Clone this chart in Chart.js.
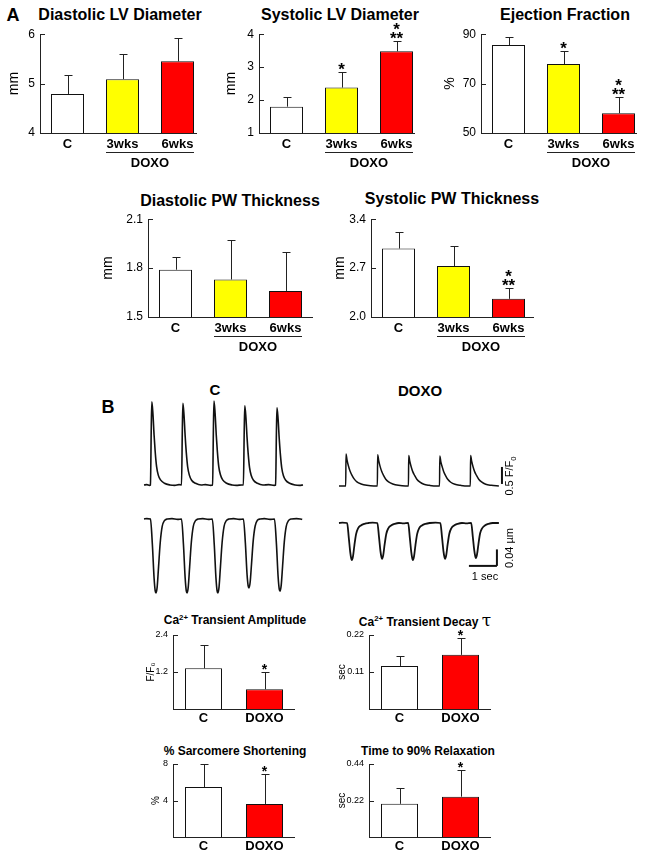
<!DOCTYPE html>
<html>
<head>
<meta charset="utf-8">
<script src="https://cdn.jsdelivr.net/npm/chart.js@4.4.1/dist/chart.umd.min.js"></script>
<style>
  body { margin: 0; background: #fff; }
  #fig { position: relative; width: 651px; height: 858px; overflow: hidden; font-family: "Liberation Sans", Arial, sans-serif; color: #000; }
  #fig canvas { position: absolute; }
  .lbl { position: absolute; transform: translate(-50%, -50%); white-space: nowrap; line-height: 1; }
  .lbl sup { font-size: 0.65em; vertical-align: 0.55em; line-height: 0; }
</style>
</head>
<body>
<div id="fig"></div>
<script>
// ---- panel A: echo data (mean, +SEM) ----
const groupsA = ["C", "3wks", "6wks"];

const lvddMean = [4.79, 5.09, 5.45];
const lvddErr = [0.38, 0.50, 0.48];
const lvddTicks = ["4", "5", "6"];

const lvdsMean = [1.80, 2.38, 3.48];
const lvdsErr = [0.28, 0.48, 0.32];
const lvdsSig = [[], ["*"], ["*", "**"]];
const lvdsTicks = ["1", "2", "3", "4"];

const efMean = [85.6, 77.9, 58.0];
const efErr = [3.3, 5.2, 6.7];
const efSig = [[], ["*"], ["*", "**"]];
const efTicks = ["50", "70", "90"];

const pwdMean = [1.79, 1.73, 1.66];
const pwdErr = [0.08, 0.24, 0.24];
const pwdTicks = ["1.5", "1.8", "2.1"];

const pwsMean = [2.98, 2.73, 2.26];
const pwsErr = [0.23, 0.29, 0.16];
const pwsSig = [[], [], ["*", "**"]];
const pwsTicks = ["2.0", "2.7", "3.4"];

// ---- panel B: myocyte data ----
const groupsB = ["C", "DOXO"];
const sigB = [[], ["*"]];

const caAmpMean = [1.32, 0.64];
const caAmpErr = [0.77, 0.56];
const caAmpTicks = ["1.2", "2.4"];

const tauMean = [0.128, 0.161];
const tauErr = [0.030, 0.049];
const tauTicks = ["0.11", "0.22"];

const shortMean = [5.48, 3.62];
const shortErr = [2.52, 3.28];
const shortTicks = ["4", "8"];

const relaxMean = [0.200, 0.243];
const relaxErr = [0.093, 0.161];
const relaxTicks = ["0.22", "0.44"];

// traces: [time (s), F/F0] and [time (s), sarcomere length (um)]
const ctrlCa = [[0,1.00],[0.10,1.01],[0.20,0.99],
  [0.23,1.00],[0.26,2.72],[0.28,3.45],[0.32,3.08],[0.36,2.47],[0.40,1.98],[0.45,1.54],[0.51,1.29],[0.59,1.15],[0.73,1.05],[0.93,1.00],[1.10,0.99],[1.25,1.01],
  [1.34,1.00],[1.37,2.68],[1.39,3.40],[1.43,3.04],[1.47,2.44],[1.51,1.96],[1.56,1.53],[1.62,1.29],[1.70,1.14],[1.84,1.05],[2.04,1.00],[2.20,1.01],[2.38,0.99],
  [2.45,1.00],[2.48,2.73],[2.50,3.47],[2.54,3.10],[2.58,2.48],[2.62,1.99],[2.67,1.54],[2.73,1.30],[2.81,1.15],[2.95,1.05],[3.15,1.00],[3.30,0.99],[3.50,1.00],
  [3.55,1.00],[3.58,2.63],[3.60,3.33],[3.64,2.98],[3.68,2.40],[3.72,1.93],[3.77,1.51],[3.83,1.28],[3.91,1.14],[4.05,1.05],[4.25,1.00],[4.45,1.01],[4.65,0.99],
  [4.70,1.00],[4.73,2.59],[4.75,3.27],[4.79,2.93],[4.83,2.36],[4.87,1.91],[4.92,1.50],[4.98,1.27],[5.06,1.14],[5.20,1.05],[5.40,1.00],[5.55,0.99],[5.68,1.00]];

const doxoCa = [[0,1.00],[0.12,1.00],[0.24,1.00],
  [0.25,1.94],[0.29,1.75],[0.34,1.58],[0.39,1.45],[0.46,1.32],[0.54,1.21],[0.64,1.12],[0.79,1.06],[0.99,1.02],[1.24,1.00],[1.37,1.00],
  [1.38,1.92],[1.42,1.74],[1.47,1.57],[1.52,1.44],[1.59,1.31],[1.67,1.20],[1.77,1.12],[1.92,1.06],[2.12,1.02],[2.37,1.00],[2.48,1.00],
  [2.49,1.90],[2.53,1.72],[2.58,1.56],[2.63,1.43],[2.70,1.31],[2.78,1.20],[2.88,1.12],[3.03,1.05],[3.23,1.02],[3.48,1.00],[3.59,1.00],
  [3.60,1.88],[3.64,1.70],[3.69,1.55],[3.74,1.42],[3.81,1.30],[3.89,1.19],[3.99,1.11],[4.14,1.05],[4.34,1.02],[4.59,1.00],[4.69,1.00],
  [4.70,1.90],[4.74,1.72],[4.79,1.56],[4.84,1.43],[4.91,1.31],[4.99,1.20],[5.09,1.12],[5.24,1.05],[5.44,1.02],[5.71,1.00]];

const ctrlSL = [[0,1.800],[0.10,1.801],
  [0.23,1.800],[0.30,1.737],[0.36,1.657],[0.40,1.626],[0.43,1.621],[0.47,1.635],[0.52,1.684],[0.58,1.743],[0.65,1.782],[0.73,1.796],[0.83,1.800],[1.00,1.801],[1.20,1.799],
  [1.34,1.800],[1.41,1.737],[1.47,1.657],[1.51,1.626],[1.54,1.621],[1.58,1.635],[1.63,1.684],[1.69,1.743],[1.76,1.782],[1.84,1.796],[1.94,1.800],[2.10,1.801],[2.30,1.799],
  [2.44,1.800],[2.51,1.737],[2.57,1.657],[2.61,1.626],[2.64,1.621],[2.68,1.635],[2.73,1.684],[2.79,1.743],[2.86,1.782],[2.94,1.796],[3.04,1.800],[3.20,1.801],[3.40,1.799],
  [3.55,1.800],[3.62,1.742],[3.68,1.666],[3.72,1.638],[3.75,1.633],[3.79,1.646],[3.84,1.691],[3.90,1.747],[3.97,1.783],[4.05,1.797],[4.15,1.800],[4.30,1.801],[4.50,1.799],
  [4.66,1.800],[4.73,1.739],[4.79,1.660],[4.83,1.630],[4.86,1.625],[4.90,1.639],[4.95,1.686],[5.01,1.744],[5.08,1.782],[5.16,1.796],[5.26,1.800],[5.45,1.801],[5.65,1.799]];

const doxoSL = [[0,1.800],[0.12,1.801],
  [0.29,1.800],[0.35,1.764],[0.40,1.730],[0.44,1.713],[0.46,1.710],[0.50,1.719],[0.55,1.746],[0.61,1.773],[0.68,1.787],[0.78,1.794],[0.91,1.798],[1.06,1.800],[1.20,1.801],
  [1.37,1.800],[1.43,1.765],[1.48,1.732],[1.52,1.716],[1.54,1.713],[1.58,1.722],[1.63,1.748],[1.69,1.774],[1.76,1.787],[1.86,1.794],[1.99,1.798],[2.14,1.800],[2.30,1.799],
  [2.47,1.800],[2.53,1.764],[2.58,1.730],[2.62,1.713],[2.64,1.710],[2.68,1.719],[2.73,1.746],[2.79,1.773],[2.86,1.787],[2.96,1.794],[3.09,1.798],[3.24,1.800],[3.45,1.801],
  [3.62,1.800],[3.68,1.765],[3.73,1.732],[3.77,1.716],[3.79,1.713],[3.83,1.722],[3.88,1.748],[3.94,1.774],[4.01,1.787],[4.11,1.794],[4.24,1.798],[4.39,1.800],[4.55,1.799],
  [4.72,1.800],[4.78,1.766],[4.83,1.734],[4.87,1.718],[4.89,1.715],[4.93,1.724],[4.98,1.749],[5.04,1.775],[5.11,1.787],[5.21,1.794],[5.34,1.798],[5.49,1.800],[5.71,1.800]];

const FONT = "'Liberation Sans', Arial, sans-serif";
Chart.defaults.font.family = FONT;
Chart.defaults.color = "#000";

const fig = document.getElementById("fig");
const WHITE = "#ffffff", YELLOW = "#ffff00", RED = "#ff0000";

function makeCanvas(left, top, w, h) {
  const c = document.createElement("canvas");
  c.width = w; c.height = h;
  Object.assign(c.style, { left: left + "px", top: top + "px", width: w + "px", height: h + "px" });
  fig.appendChild(c);
  return c;
}

function label(html, x, y, css) {
  const d = document.createElement("div");
  d.className = "lbl";
  d.innerHTML = html;
  d.style.left = x + "px";
  d.style.top = y + "px";
  Object.assign(d.style, css || {});
  fig.appendChild(d);
}

function seg(ctx, x1, y1, x2, y2) {
  ctx.beginPath(); ctx.moveTo(x1, y1); ctx.lineTo(x2, y2); ctx.stroke();
}

// baseline, inward ticks, error bars, asterisks, DOXO bracket
const decor = {
  id: "decor",
  afterDatasetsDraw(chart, args, o) {
    const { ctx, chartArea: a } = chart;
    const y = chart.scales.y;
    const bars = chart.getDatasetMeta(0).data;
    ctx.save();
    ctx.strokeStyle = "#222";
    ctx.fillStyle = "#000";
    ctx.lineWidth = 1;
    const yb = Math.round(a.bottom) + 0.5;
    seg(ctx, a.left, yb, a.right - o.cut, yb);
    y.ticks.forEach(t => {
      const p = Math.round(y.getPixelForValue(t.value)) + 0.5;
      seg(ctx, a.left, p, a.left + 5, p);
    });
    ctx.font = "bold " + o.starSize + "px " + FONT;
    ctx.textAlign = "center";
    ctx.textBaseline = "alphabetic";
    bars.forEach((b, i) => {
      const x = Math.round(b.x) + 0.5;
      const top = Math.round(y.getPixelForValue(o.mean[i] + o.err[i])) + 0.5;
      seg(ctx, x, b.y, x, top);
      seg(ctx, x - 4, top, x + 4, top);
      const lines = (o.sig && o.sig[i]) || [];
      lines.slice().reverse().forEach((s, k) => ctx.fillText(s, b.x, top + o.starDrop - k * o.starGap));
    });
    if (o.group) {
      const f = bars[o.group.from], l = bars[o.group.to];
      const x1 = f.x - f.width / 2, x2 = l.x + l.width / 2;
      const ly = Math.round(a.bottom + 19) + 0.5;
      seg(ctx, x1, ly, x2, ly);
      ctx.font = "bold 13px " + FONT;
      ctx.textBaseline = "middle";
      ctx.fillText(o.group.label, (x1 + x2) / 2, a.bottom + 30);
    }
    ctx.restore();
  }
};

function barChart(s) {
  const big = !s.small;
  const YW = 50, PT = 12, PR = 6, XH = big ? 46 : 24;
  const left = s.left - YW, top = s.top - PT;
  const w = s.right + PR - left, h = s.bottom + XH - top;
  const cv = makeCanvas(left, top, w, h);
  const tickVals = s.ticks.map(Number);
  const tf = big ? 12 : 9, yf = big ? 14 : 10;
  new Chart(cv, {
    type: "bar",
    data: {
      labels: s.labels,
      datasets: [{
        data: s.mean,
        backgroundColor: s.colors,
        borderColor: "#111",
        borderWidth: 1,
        barPercentage: s.barPct,
        categoryPercentage: 1
      }]
    },
    options: {
      responsive: false,
      animation: false,
      events: [],
      devicePixelRatio: 1,
      layout: { padding: { top: PT, right: PR, left: 0, bottom: 0 } },
      plugins: {
        legend: { display: false },
        tooltip: { enabled: false },
        decor: {
          mean: s.mean, err: s.err, sig: s.sig, cut: s.cut || 0, group: s.group,
          starSize: big ? 17 : 14, starGap: big ? 8.5 : 8, starDrop: big ? 2 : 1
        }
      },
      scales: {
        x: {
          grid: { display: false, drawTicks: false },
          border: { display: false },
          ticks: { padding: big ? 4 : 2, color: "#000", font: { size: 13, weight: "bold" } },
          afterFit: sc => { sc.height = XH; }
        },
        y: {
          min: s.min, max: s.max,
          grid: { display: false, drawTicks: false },
          border: { display: true, color: "#222", width: 1 },
          afterBuildTicks: sc => { sc.ticks = tickVals.map(v => ({ value: v })); },
          ticks: { padding: 5, color: "#000", font: { size: tf }, callback: (v, i) => s.ticks[i] },
          title: {
            display: true, text: s.yTitle, color: "#000",
            font: { size: yf },
            padding: { top: YW - s.yGap - yf * 0.6, bottom: 0 }
          },
          afterFit: sc => { sc.width = YW; }
        }
      }
    },
    plugins: [decor]
  });
}

// scale bars for the traces
const scaleBars = {
  id: "scaleBars",
  afterDatasetsDraw(chart, args, o) {
    if (!o.bars) return;
    const { ctx, scales: { x, y } } = chart;
    ctx.save();
    ctx.strokeStyle = "#111";
    ctx.lineWidth = 2;
    o.bars.forEach(b => seg(ctx, x.getPixelForValue(b[0]), y.getPixelForValue(b[1]), x.getPixelForValue(b[2]), y.getPixelForValue(b[3])));
    ctx.restore();
  }
};

function traceChart(box, an, pts, bars, lw) {
  const cv = makeCanvas(box.left, box.top, box.width, box.height);
  new Chart(cv, {
    type: "line",
    data: {
      datasets: [{
        data: pts.map(p => ({ x: p[0], y: p[1] })),
        borderColor: "#111",
        borderWidth: lw,
        pointRadius: 0,
        cubicInterpolationMode: "monotone"
      }]
    },
    options: {
      responsive: false,
      animation: false,
      events: [],
      devicePixelRatio: 1,
      layout: { padding: 0 },
      plugins: { legend: { display: false }, tooltip: { enabled: false }, scaleBars: { bars: bars } },
      scales: {
        x: { type: "linear", display: false,
             min: (box.left - an.x0) / an.px, max: (box.left + box.width - an.x0) / an.px },
        y: { type: "linear", display: false,
             min: an.v0 - (box.top + box.height - an.y0) / an.py,
             max: an.v0 + (an.y0 - box.top) / an.py }
      }
    },
    plugins: [scaleBars]
  });
}

// ---------- panel A ----------
label("A", 13, 15, { fontSize: "18px", fontWeight: "bold" });
label("Diastolic LV Diameter", 120, 15, { fontSize: "16px", fontWeight: "bold" });
label("Systolic LV Diameter", 340, 15, { fontSize: "16px", fontWeight: "bold" });
label("Ejection Fraction", 565, 15, { fontSize: "16px", fontWeight: "bold" });
label("Diastolic PW Thickness", 230, 201, { fontSize: "16px", fontWeight: "bold" });
label("Systolic PW Thickness", 452, 199, { fontSize: "16px", fontWeight: "bold" });

const doxoGroup = { from: 1, to: 2, label: "DOXO" };
const colorsA = [WHITE, YELLOW, RED];

barChart({ left: 40, top: 34, bottom: 133, right: 205, labels: groupsA, mean: lvddMean, err: lvddErr,
  ticks: lvddTicks, min: 4, max: 6, yTitle: "mm", yGap: 26, cut: 8, barPct: 0.6, colors: colorsA, group: doxoGroup });
barChart({ left: 259, top: 34, bottom: 133, right: 424, labels: groupsA, mean: lvdsMean, err: lvdsErr, sig: lvdsSig,
  ticks: lvdsTicks, min: 1, max: 4, yTitle: "mm", yGap: 28, cut: 9, barPct: 0.6, colors: colorsA, group: doxoGroup });
barChart({ left: 481, top: 34, bottom: 133, right: 646, labels: groupsA, mean: efMean, err: efErr, sig: efSig,
  ticks: efTicks, min: 50, max: 90, yTitle: "%", yGap: 31, cut: 9, barPct: 0.6, colors: colorsA, group: doxoGroup });
barChart({ left: 148, top: 219, bottom: 317, right: 313, labels: groupsA, mean: pwdMean, err: pwdErr,
  ticks: pwdTicks, min: 1.5, max: 2.1, yTitle: "mm", yGap: 40, cut: 0, barPct: 0.6, colors: colorsA, group: doxoGroup });
barChart({ left: 371, top: 219, bottom: 317, right: 536, labels: groupsA, mean: pwsMean, err: pwsErr, sig: pwsSig,
  ticks: pwsTicks, min: 2.0, max: 3.4, yTitle: "mm", yGap: 31, cut: 2, barPct: 0.6, colors: colorsA, group: doxoGroup });

// ---------- panel B ----------
label("B", 108, 407, { fontSize: "18px", fontWeight: "bold" });
label("C", 215, 389, { fontSize: "15px", fontWeight: "bold" });
label("DOXO", 420, 390, { fontSize: "15px", fontWeight: "bold" });

traceChart({ left: 140, top: 392, width: 168, height: 100 }, { x0: 144, px: 28, y0: 485, v0: 1.0, py: 34 }, ctrlCa, null, 1.6);
traceChart({ left: 335, top: 445, width: 175, height: 50 }, { x0: 339, px: 28, y0: 486, v0: 1.0, py: 34 }, doxoCa,
  [[5.82, 1.06, 5.82, 1.56]], 1.5);
traceChart({ left: 140, top: 510, width: 168, height: 90 }, { x0: 144, px: 28, y0: 519, v0: 1.8, py: 412.5 }, ctrlSL, null, 1.6);
traceChart({ left: 335, top: 512, width: 170, height: 60 }, { x0: 339, px: 28, y0: 523, v0: 1.8, py: 412.5 }, doxoSL,
  [[5.64, 1.696, 5.64, 1.736], [4.64, 1.696, 5.64, 1.696]], 1.8);

label("0.5 F/F<sub style='font-size:0.7em'>0</sub>", 511, 476, { fontSize: "11px", transform: "translate(-50%,-50%) rotate(-90deg)" });
label("0.04 µm", 509, 548, { fontSize: "11px", transform: "translate(-50%,-50%) rotate(-90deg)" });
label("1 sec", 485, 576, { fontSize: "11px" });

label("Ca<sup>2+</sup> Transient Amplitude", 235, 620, { fontSize: "12px", fontWeight: "bold" });
label("Ca<sup>2+</sup> Transient Decay <span style='font-size:17px;font-weight:normal;font-family:\"DejaVu Serif\",serif'>τ</span>", 425, 620, { fontSize: "12px", fontWeight: "bold" });
label("% Sarcomere Shortening", 235, 751, { fontSize: "12px", fontWeight: "bold" });
label("Time to 90% Relaxation", 428, 751, { fontSize: "12px", fontWeight: "bold" });

const colorsB = [WHITE, RED];
barChart({ small: true, left: 173, top: 635, bottom: 709, right: 295, labels: groupsB, mean: caAmpMean, err: caAmpErr, sig: sigB,
  ticks: caAmpTicks, min: 0, max: 2.4, yTitle: "F/F₀", yGap: 22, barPct: 0.6066, colors: colorsB });
barChart({ small: true, left: 369, top: 635, bottom: 709, right: 491, labels: groupsB, mean: tauMean, err: tauErr, sig: sigB,
  ticks: tauTicks, min: 0, max: 0.22, yTitle: "sec", yGap: 27, barPct: 0.6066, colors: colorsB });
barChart({ small: true, left: 173, top: 764, bottom: 837, right: 295, labels: groupsB, mean: shortMean, err: shortErr, sig: sigB,
  ticks: shortTicks, min: 0, max: 8, yTitle: "%", yGap: 17, barPct: 0.6066, colors: colorsB });
barChart({ small: true, left: 369, top: 764, bottom: 837, right: 491, labels: groupsB, mean: relaxMean, err: relaxErr, sig: sigB,
  ticks: relaxTicks, min: 0, max: 0.44, yTitle: "sec", yGap: 27, barPct: 0.6066, colors: colorsB });
</script>
</body>
</html>
